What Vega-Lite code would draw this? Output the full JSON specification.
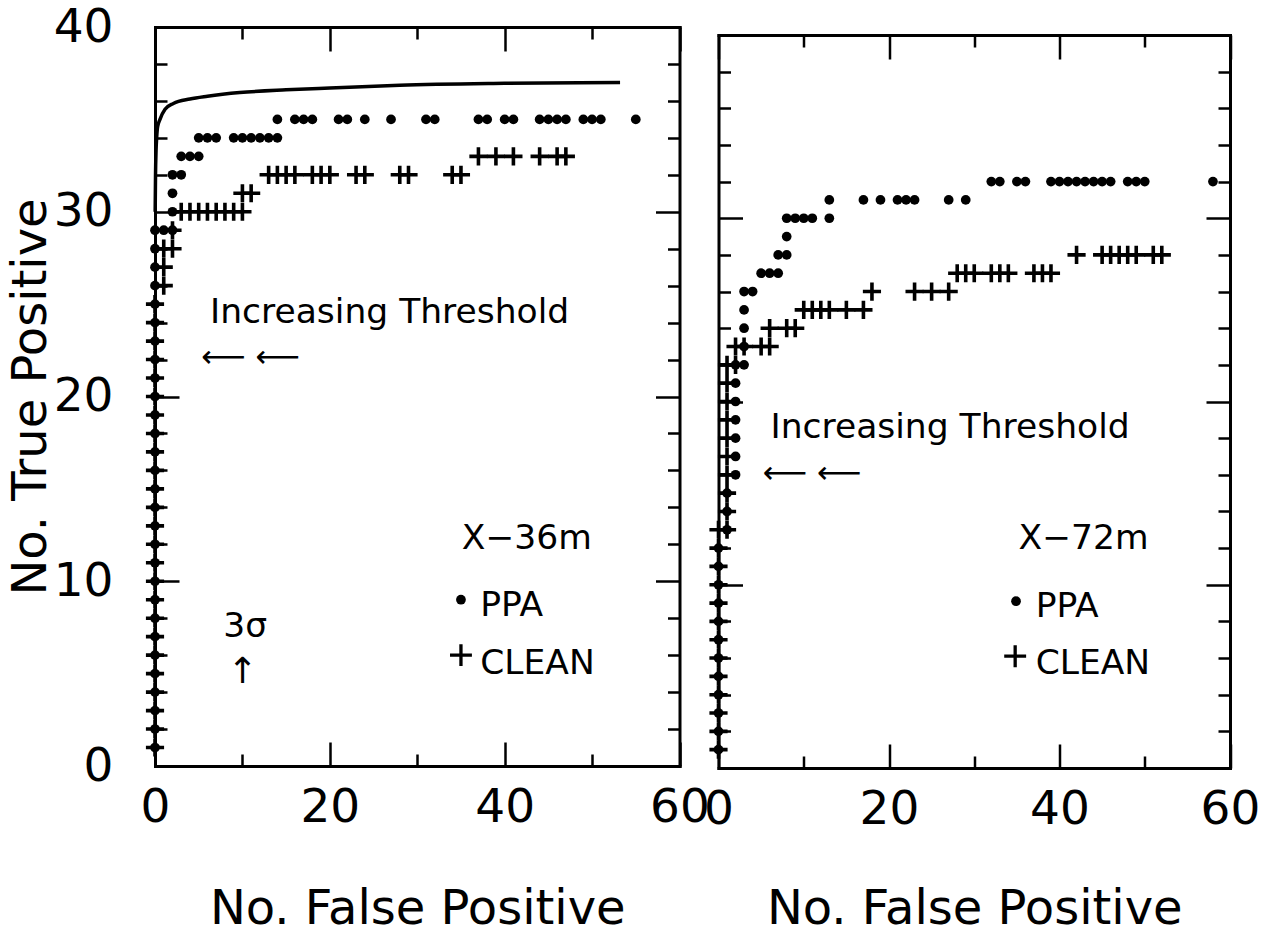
{
  "$schema": "https://vega.github.io/schema/vega-lite/v6.json",
  "background": "white",
  "padding": {"left": 7, "top": 3, "right": 0, "bottom": 0},
  "config": {
    "view": {"stroke": null},
    "font": "DejaVu Sans",
    "axis": {
      "domainColor": "black", "domainWidth": 3, "domainCap": "square",
      "tickColor": "black", "tickWidth": 2.5,
      "labelColor": "black", "titleColor": "black",
      "labelFont": "DejaVu Sans", "titleFont": "DejaVu Sans",
      "labelFontSize": 47, "titleFontSize": 48, "titleFontWeight": "normal",
      "grid": false, "labelOverlap": false, "labelFlush": false
    }
  },
  "datasets": {
    "L_ppa": [
      {"fp":0,"tp":1},{"fp":0,"tp":2},{"fp":0,"tp":3},{"fp":0,"tp":4},{"fp":0,"tp":5},{"fp":0,"tp":6},{"fp":0,"tp":7},{"fp":0,"tp":8},{"fp":0,"tp":9},{"fp":0,"tp":10},
      {"fp":0,"tp":11},{"fp":0,"tp":12},{"fp":0,"tp":13},{"fp":0,"tp":14},{"fp":0,"tp":15},{"fp":0,"tp":16},{"fp":0,"tp":17},{"fp":0,"tp":18},{"fp":0,"tp":19},{"fp":0,"tp":20},
      {"fp":0,"tp":21},{"fp":0,"tp":22},{"fp":0,"tp":23},{"fp":0,"tp":24},{"fp":0,"tp":25},{"fp":0,"tp":26},{"fp":0,"tp":27},{"fp":0,"tp":28},{"fp":0,"tp":29},
      {"fp":1,"tp":29},{"fp":2,"tp":29},{"fp":2,"tp":30},{"fp":2,"tp":31},{"fp":2,"tp":32},{"fp":3,"tp":32},{"fp":3,"tp":33},{"fp":4,"tp":33},{"fp":5,"tp":33},
      {"fp":5,"tp":34},{"fp":6,"tp":34},{"fp":7,"tp":34},{"fp":9,"tp":34},{"fp":10,"tp":34},{"fp":11,"tp":34},{"fp":12,"tp":34},{"fp":13,"tp":34},{"fp":14,"tp":34},
      {"fp":14,"tp":35},{"fp":16,"tp":35},{"fp":17,"tp":35},{"fp":18,"tp":35},{"fp":21,"tp":35},{"fp":22,"tp":35},{"fp":24,"tp":35},{"fp":27,"tp":35},{"fp":31,"tp":35},{"fp":32,"tp":35},
      {"fp":37,"tp":35},{"fp":38,"tp":35},{"fp":40,"tp":35},{"fp":41,"tp":35},{"fp":44,"tp":35},{"fp":45,"tp":35},{"fp":46,"tp":35},{"fp":47,"tp":35},{"fp":49,"tp":35},{"fp":50,"tp":35},{"fp":51,"tp":35},{"fp":55,"tp":35}
    ],
    "L_clean": [
      {"fp":0,"tp":1},{"fp":0,"tp":2},{"fp":0,"tp":3},{"fp":0,"tp":4},{"fp":0,"tp":5},{"fp":0,"tp":6},{"fp":0,"tp":7},{"fp":0,"tp":8},{"fp":0,"tp":9},{"fp":0,"tp":10},
      {"fp":0,"tp":11},{"fp":0,"tp":12},{"fp":0,"tp":13},{"fp":0,"tp":14},{"fp":0,"tp":15},{"fp":0,"tp":16},{"fp":0,"tp":17},{"fp":0,"tp":18},{"fp":0,"tp":19},{"fp":0,"tp":20},
      {"fp":0,"tp":21},{"fp":0,"tp":22},{"fp":0,"tp":23},{"fp":0,"tp":24},{"fp":0,"tp":25},
      {"fp":1,"tp":26},{"fp":1,"tp":27},{"fp":1,"tp":28},{"fp":2,"tp":28},{"fp":2,"tp":29},
      {"fp":3,"tp":30},{"fp":4,"tp":30},{"fp":5,"tp":30},{"fp":6,"tp":30},{"fp":7,"tp":30},{"fp":8,"tp":30},{"fp":9,"tp":30},{"fp":10,"tp":30},
      {"fp":10,"tp":31},{"fp":11,"tp":31},
      {"fp":13,"tp":32},{"fp":14,"tp":32},{"fp":15,"tp":32},{"fp":16,"tp":32},{"fp":18,"tp":32},{"fp":19,"tp":32},{"fp":20,"tp":32},{"fp":23,"tp":32},{"fp":24,"tp":32},{"fp":28,"tp":32},{"fp":29,"tp":32},{"fp":34,"tp":32},{"fp":35,"tp":32},
      {"fp":37,"tp":33},{"fp":39,"tp":33},{"fp":41,"tp":33},{"fp":44,"tp":33},{"fp":46,"tp":33},{"fp":47,"tp":33}
    ],
    "L_curve": [
      {"fp":0.02,"tp":30},{"fp":0.06,"tp":32},{"fp":0.12,"tp":33.3},{"fp":0.19,"tp":34.0},{"fp":0.3,"tp":34.6},{"fp":0.57,"tp":35.0},{"fp":1.15,"tp":35.55},{"fp":2.1,"tp":35.86},
      {"fp":4,"tp":36.1},{"fp":6,"tp":36.25},{"fp":9.7,"tp":36.45},{"fp":15,"tp":36.6},{"fp":20,"tp":36.7},{"fp":28,"tp":36.85},{"fp":40,"tp":36.95},{"fp":53.2,"tp":37.0}
    ],
    "R_ppa": [
      {"fp":0,"tp":1},{"fp":0,"tp":2},{"fp":0,"tp":3},{"fp":0,"tp":4},{"fp":0,"tp":5},{"fp":0,"tp":6},{"fp":0,"tp":7},{"fp":0,"tp":8},{"fp":0,"tp":9},{"fp":0,"tp":10},{"fp":0,"tp":11},{"fp":0,"tp":12},
      {"fp":1,"tp":13},{"fp":1,"tp":14},{"fp":1,"tp":15},{"fp":2,"tp":16},{"fp":2,"tp":17},{"fp":2,"tp":18},{"fp":2,"tp":19},{"fp":2,"tp":20},{"fp":2,"tp":21},{"fp":2,"tp":22},
      {"fp":3,"tp":22},{"fp":3,"tp":23},{"fp":3,"tp":24},{"fp":3,"tp":25},{"fp":3,"tp":26},{"fp":4,"tp":26},{"fp":5,"tp":27},{"fp":6,"tp":27},{"fp":7,"tp":27},{"fp":7,"tp":28},{"fp":8,"tp":28},
      {"fp":8,"tp":29},{"fp":8,"tp":30},{"fp":9,"tp":30},{"fp":10,"tp":30},{"fp":11,"tp":30},{"fp":13,"tp":30},
      {"fp":13,"tp":31},{"fp":17,"tp":31},{"fp":19,"tp":31},{"fp":21,"tp":31},{"fp":22,"tp":31},{"fp":23,"tp":31},{"fp":27,"tp":31},{"fp":29,"tp":31},
      {"fp":32,"tp":32},{"fp":33,"tp":32},{"fp":35,"tp":32},{"fp":36,"tp":32},{"fp":39,"tp":32},{"fp":40,"tp":32},{"fp":41,"tp":32},{"fp":42,"tp":32},{"fp":43,"tp":32},{"fp":44,"tp":32},{"fp":45,"tp":32},{"fp":46,"tp":32},
      {"fp":48,"tp":32},{"fp":49,"tp":32},{"fp":50,"tp":32},{"fp":58,"tp":32}
    ],
    "R_clean": [
      {"fp":0,"tp":1},{"fp":0,"tp":2},{"fp":0,"tp":3},{"fp":0,"tp":4},{"fp":0,"tp":5},{"fp":0,"tp":6},{"fp":0,"tp":7},{"fp":0,"tp":8},{"fp":0,"tp":9},{"fp":0,"tp":10},{"fp":0,"tp":11},{"fp":0,"tp":12},{"fp":0,"tp":13},
      {"fp":1,"tp":13},{"fp":1,"tp":14},{"fp":1,"tp":15},{"fp":1,"tp":16},{"fp":1,"tp":17},{"fp":1,"tp":18},{"fp":1,"tp":19},{"fp":1,"tp":20},{"fp":1,"tp":21},{"fp":1,"tp":22},
      {"fp":2,"tp":22},{"fp":2,"tp":23},{"fp":3,"tp":23},{"fp":5,"tp":23},{"fp":6,"tp":23},{"fp":6,"tp":24},{"fp":8,"tp":24},{"fp":9,"tp":24},
      {"fp":10,"tp":25},{"fp":11,"tp":25},{"fp":12,"tp":25},{"fp":13,"tp":25},{"fp":15,"tp":25},{"fp":17,"tp":25},
      {"fp":18,"tp":26},{"fp":23,"tp":26},{"fp":25,"tp":26},{"fp":27,"tp":26},
      {"fp":28,"tp":27},{"fp":29,"tp":27},{"fp":30,"tp":27},{"fp":32,"tp":27},{"fp":33,"tp":27},{"fp":34,"tp":27},{"fp":37,"tp":27},{"fp":38,"tp":27},{"fp":39,"tp":27},
      {"fp":42,"tp":28},{"fp":45,"tp":28},{"fp":46,"tp":28},{"fp":47,"tp":28},{"fp":48,"tp":28},{"fp":49,"tp":28},{"fp":51,"tp":28},{"fp":52,"tp":28}
    ]
  },
  "bounds": "flush",
  "spacing": 38.5,
  "hconcat": [
    {
      "width": 524.5,
      "height": 739,
      "resolve": {"axis": {"x": "independent", "y": "independent"}},
      "layer": [
        {
          "data": {"name": "L_curve"},
          "mark": {"type": "line", "color": "black", "strokeWidth": 3.5, "interpolate": "monotone"},
          "encoding": {
            "x": {"field": "fp", "type": "quantitative", "scale": {"domain": [0, 60], "nice": false},
              "axis": {"orient": "bottom", "values": [0,10,20,30,40,50,60],
                "tickSize": {"condition": {"test": "datum.value % 20 === 0", "value": -24}, "value": -12},
                "labelExpr": "datum.value % 20 === 0 ? datum.label : ''", "labelPadding": 42, "labelBaseline": "top",
                "title": "No. False Positive", "titlePadding": 43}},
            "y": {"field": "tp", "type": "quantitative", "scale": {"domain": [0, 40], "nice": false},
              "axis": {"orient": "left", "values": [0,2,4,6,8,10,12,14,16,18,20,22,24,26,28,30,32,34,36,38,40],
                "tickSize": {"condition": {"test": "datum.value % 10 === 0", "value": -24}, "value": -12},
                "labelExpr": "datum.value % 10 === 0 ? datum.label : ''", "labelPadding": 66,
                "title": "No. True Positive", "titlePadding": -2}}
          }
        },
        {
          "data": {"name": "L_ppa"},
          "mark": {"type": "point", "shape": "circle", "filled": true, "color": "black", "size": 95, "opacity": 1},
          "encoding": {
            "x": {"field": "fp", "type": "quantitative", "scale": {"domain": [0, 60], "nice": false},
              "axis": {"orient": "top", "values": [0,10,20,30,40,50,60],
                "tickSize": {"condition": {"test": "datum.value % 20 === 0", "value": -24}, "value": -12},
                "labels": false, "title": null}},
            "y": {"field": "tp", "type": "quantitative", "scale": {"domain": [0, 40], "nice": false},
              "axis": {"orient": "right", "values": [0,2,4,6,8,10,12,14,16,18,20,22,24,26,28,30,32,34,36,38,40],
                "tickSize": {"condition": {"test": "datum.value % 10 === 0", "value": -24}, "value": -12},
                "labels": false, "title": null}}
          }
        },
        {
          "data": {"name": "L_clean"},
          "mark": {"type": "point", "shape": "M-1,0H1M0,-1V1", "filled": false, "stroke": "black", "strokeWidth": 3.6, "size": 330, "opacity": 1},
          "encoding": {
            "x": {"field": "fp", "type": "quantitative", "axis": null},
            "y": {"field": "tp", "type": "quantitative", "axis": null}
          }
        },
        {
          "data": {"values": [{"fp": 35, "tp": 9}]},
          "mark": {"type": "point", "shape": "circle", "filled": true, "color": "black", "size": 95, "opacity": 1},
          "encoding": {"x": {"field": "fp", "type": "quantitative", "axis": null}, "y": {"field": "tp", "type": "quantitative", "axis": null}}
        },
        {
          "data": {"values": [{"fp": 35, "tp": 6}]},
          "mark": {"type": "point", "shape": "M-1,0H1M0,-1V1", "filled": false, "stroke": "black", "strokeWidth": 3.3, "size": 480, "opacity": 1},
          "encoding": {"x": {"field": "fp", "type": "quantitative", "axis": null}, "y": {"field": "tp", "type": "quantitative", "axis": null}}
        },
        {
          "data": {"values": [
            {"fp": 6.3, "tp": 24, "label": "Increasing Threshold"},
            {"fp": 35.1, "tp": 11.75, "label": "X−36m"},
            {"fp": 37.2, "tp": 8.12, "label": "PPA"},
            {"fp": 37.2, "tp": 4.98, "label": "CLEAN"},
            {"fp": 7.8, "tp": 7.0, "label": "3σ"}
          ]},
          "mark": {"type": "text", "align": "left", "baseline": "alphabetic", "fontSize": 34.5, "font": "DejaVu Sans", "color": "black"},
          "encoding": {"x": {"field": "fp", "type": "quantitative", "axis": null}, "y": {"field": "tp", "type": "quantitative", "axis": null}, "text": {"field": "label"}}
        },
        {
          "data": {"values": [{"fp": 10.9, "tp": 22.1, "label": "⟵ ⟵"}]},
          "mark": {"type": "text", "align": "center", "baseline": "middle", "fontSize": 31, "font": "DejaVu Sans", "color": "black"},
          "encoding": {"x": {"field": "fp", "type": "quantitative", "axis": null}, "y": {"field": "tp", "type": "quantitative", "axis": null}, "text": {"field": "label"}}
        },
        {
          "data": {"values": [{"fp": 10, "tp": 5.1, "label": "↑"}]},
          "mark": {"type": "text", "align": "center", "baseline": "middle", "fontSize": 36, "font": "DejaVu Sans", "color": "black"},
          "encoding": {"x": {"field": "fp", "type": "quantitative", "axis": null}, "y": {"field": "tp", "type": "quantitative", "axis": null}, "text": {"field": "label"}}
        }
      ]
    },
    {
      "bounds": "flush",
      "spacing": 0,
      "vconcat": [
        {
          "width": 511.5,
          "height": 8,
          "data": {"values": [{}]},
          "mark": {"type": "point", "opacity": 0}
        },
        {
          "width": 511.5,
          "height": 733,
          "resolve": {"axis": {"x": "independent", "y": "independent"}},
          "layer": [
            {
              "data": {"name": "R_clean"},
              "mark": {"type": "point", "shape": "M-1,0H1M0,-1V1", "filled": false, "stroke": "black", "strokeWidth": 3.6, "size": 330, "opacity": 1},
              "encoding": {
                "x": {"field": "fp", "type": "quantitative", "scale": {"domain": [0, 60], "nice": false},
                  "axis": {"orient": "bottom", "values": [0,10,20,30,40,50,60],
                    "tickSize": {"condition": {"test": "datum.value % 20 === 0", "value": -24}, "value": -12},
                    "labelExpr": "datum.value % 20 === 0 ? datum.label : ''", "labelPadding": 42, "labelBaseline": "top",
                    "title": "No. False Positive", "titlePadding": 41}},
                "y": {"field": "tp", "type": "quantitative", "scale": {"domain": [0, 40], "nice": false},
                  "axis": {"orient": "left", "values": [0,2,4,6,8,10,12,14,16,18,20,22,24,26,28,30,32,34,36,38,40],
                    "tickSize": {"condition": {"test": "datum.value % 10 === 0", "value": -24}, "value": -12},
                    "labels": false, "title": null}}
              }
            },
            {
              "data": {"name": "R_ppa"},
              "mark": {"type": "point", "shape": "circle", "filled": true, "color": "black", "size": 95, "opacity": 1},
              "encoding": {
                "x": {"field": "fp", "type": "quantitative", "scale": {"domain": [0, 60], "nice": false},
                  "axis": {"orient": "top", "values": [0,10,20,30,40,50,60],
                    "tickSize": {"condition": {"test": "datum.value % 20 === 0", "value": -24}, "value": -12},
                    "labels": false, "title": null}},
                "y": {"field": "tp", "type": "quantitative", "scale": {"domain": [0, 40], "nice": false},
                  "axis": {"orient": "right", "values": [0,2,4,6,8,10,12,14,16,18,20,22,24,26,28,30,32,34,36,38,40],
                    "tickSize": {"condition": {"test": "datum.value % 10 === 0", "value": -24}, "value": -12},
                    "labels": false, "title": null}}
              }
            },
            {
              "data": {"values": [{"fp": 34.9, "tp": 9.1}]},
              "mark": {"type": "point", "shape": "circle", "filled": true, "color": "black", "size": 95, "opacity": 1},
              "encoding": {"x": {"field": "fp", "type": "quantitative", "axis": null}, "y": {"field": "tp", "type": "quantitative", "axis": null}}
            },
            {
              "data": {"values": [{"fp": 34.8, "tp": 6.1}]},
              "mark": {"type": "point", "shape": "M-1,0H1M0,-1V1", "filled": false, "stroke": "black", "strokeWidth": 3.3, "size": 480, "opacity": 1},
              "encoding": {"x": {"field": "fp", "type": "quantitative", "axis": null}, "y": {"field": "tp", "type": "quantitative", "axis": null}}
            },
            {
              "data": {"values": [
                {"fp": 6.1, "tp": 18.0, "label": "Increasing Threshold"},
                {"fp": 35.2, "tp": 11.95, "label": "X−72m"},
                {"fp": 37.2, "tp": 8.24, "label": "PPA"},
                {"fp": 37.2, "tp": 5.13, "label": "CLEAN"}
              ]},
              "mark": {"type": "text", "align": "left", "baseline": "alphabetic", "fontSize": 34.5, "font": "DejaVu Sans", "color": "black"},
              "encoding": {"x": {"field": "fp", "type": "quantitative", "axis": null}, "y": {"field": "tp", "type": "quantitative", "axis": null}, "text": {"field": "label"}}
            },
            {
              "data": {"values": [{"fp": 10.96, "tp": 16.04, "label": "⟵ ⟵"}]},
              "mark": {"type": "text", "align": "center", "baseline": "middle", "fontSize": 31, "font": "DejaVu Sans", "color": "black"},
              "encoding": {"x": {"field": "fp", "type": "quantitative", "axis": null}, "y": {"field": "tp", "type": "quantitative", "axis": null}, "text": {"field": "label"}}
            }
          ]
        }
      ]
    }
  ]
}
